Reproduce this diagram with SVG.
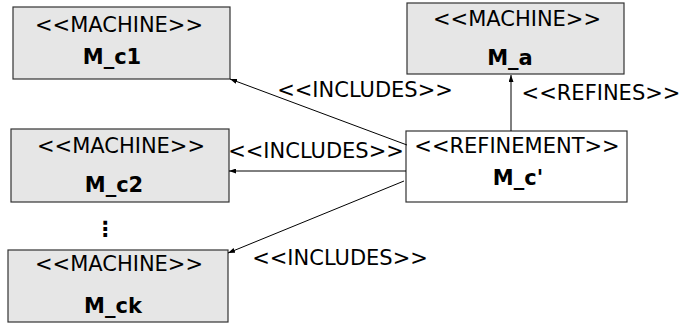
<svg xmlns="http://www.w3.org/2000/svg" width="681" height="329" viewBox="0 0 681 329">
<defs>
<style>
.m{fill:#e6e6e6;stroke:#333;stroke-width:1.2}
.r{fill:#fff;stroke:#333;stroke-width:1.2}
text{font-family:"DejaVu Sans",sans-serif;font-size:21px;fill:#000;text-anchor:middle}
.b{font-weight:bold}
.e{stroke:#000;stroke-width:1;fill:none;marker-end:url(#a)}
</style>
<marker id="a" viewBox="0 0 7 5" refX="7" refY="2.5" markerWidth="7" markerHeight="5" orient="auto" markerUnits="userSpaceOnUse">
<path d="M0,0 L7,2.5 L0,5 z" fill="#000"/>
</marker>
</defs>
<g id="M_c1"><rect class="m" x="13" y="7" width="217" height="72"/><text x="119" y="32">&lt;&lt;MACHINE&gt;&gt;</text><text class="b" x="112" y="64">M_c1</text></g>
<g id="M_a"><rect class="m" x="407" y="3" width="217" height="71"/><text x="517" y="26">&lt;&lt;MACHINE&gt;&gt;</text><text class="b" x="510" y="65">M_a</text></g>
<g id="M_c_prime"><rect class="r" x="406" y="131" width="221" height="71"/><text x="517" y="153">&lt;&lt;REFINEMENT&gt;&gt;</text><text class="b" x="518" y="185">M_c'</text></g>
<g id="M_c2"><rect class="m" x="11" y="129" width="218" height="73"/><text x="121" y="153">&lt;&lt;MACHINE&gt;&gt;</text><text class="b" x="114" y="192">M_c2</text></g>
<g id="M_ck"><rect class="m" x="8" y="250" width="220" height="72"/><text x="119" y="271">&lt;&lt;MACHINE&gt;&gt;</text><text class="b" x="113" y="313">M_ck</text></g>
<text class="b" x="105" y="236">⋮</text>
<g id="connectors">
<line class="e" x1="407" y1="145" x2="230" y2="79"/>
<line class="e" x1="406" y1="171" x2="229" y2="171"/>
<line class="e" x1="404" y1="181" x2="228" y2="253"/>
<line class="e" x1="511" y1="131" x2="511" y2="75"/>
<text x="365" y="97">&lt;&lt;INCLUDES&gt;&gt;</text>
<text x="316" y="158">&lt;&lt;INCLUDES&gt;&gt;</text>
<text x="340" y="265">&lt;&lt;INCLUDES&gt;&gt;</text>
<text x="601" y="100">&lt;&lt;REFINES&gt;&gt;</text>
</g>
</svg>
